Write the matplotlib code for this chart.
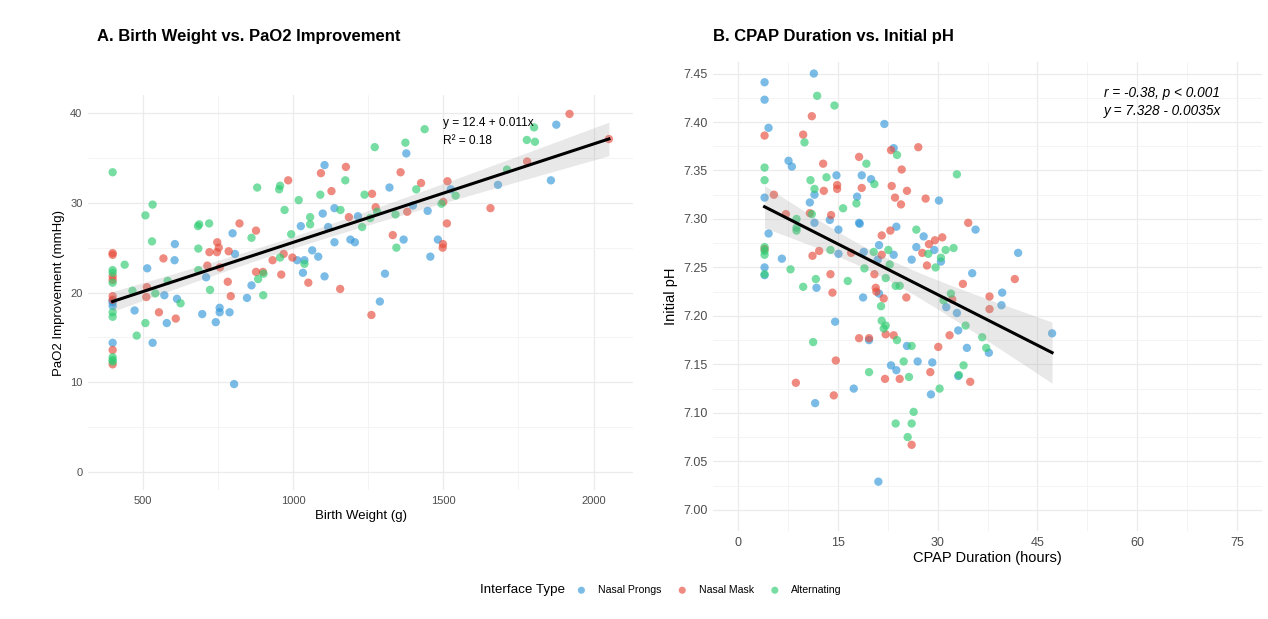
import numpy as np
import matplotlib.pyplot as plt

'------DATA------'

# Panel A: birth weight (g) and PaO2 improvement (mmHg), by interface type
bw_prongs = [1876, 1858, 1682, 1377, 1105, 1321, 1525, 1138, 1099, 1216, 1399, 1448, 1117,
             1026, 799, 1191, 1206, 1138, 1368, 1482, 1457, 1064, 1084, 807, 1014, 1038,
             1033, 1105, 1306, 711, 515, 607, 606, 572, 614, 473, 698, 743, 756, 756, 789,
             580, 533, 847, 862, 1289, 804, 400, 400, 400, 400]
pao2_prongs = [38.7, 32.5, 32.0, 35.5, 34.2, 31.7, 31.5, 29.4, 28.8, 28.5, 29.7, 29.1, 27.3,
               27.4, 26.6, 25.9, 25.6, 25.6, 25.9, 25.9, 24.0, 24.7, 24.0, 24.3, 23.6, 23.6,
               22.2, 21.8, 22.1, 21.7, 22.7, 25.4, 23.6, 19.7, 19.3, 18.0, 17.6, 16.7, 18.3,
               17.8, 17.8, 16.6, 14.4, 19.4, 20.8, 19.0, 9.8, 14.4, 18.9, 18.5, 19.1]

bw_mask = [1920, 2051, 1779, 1514, 1426, 1358, 1176, 1093, 1128, 984, 1263, 1275, 1380, 1186,
           1500, 1512, 1657, 1332, 1498, 1499, 1157, 1261, 1051, 998, 969, 932, 961, 900, 877,
           877, 822, 748, 753, 747, 722, 786, 715, 757, 783, 793, 569, 514, 512, 554, 610,
           400, 400, 400, 400, 400, 400, 400, 400]
pao2_mask = [39.9, 37.1, 34.6, 32.4, 32.2, 33.4, 34.0, 33.3, 31.3, 32.5, 31.0, 29.5, 29.0,
             28.4, 30.1, 27.7, 29.4, 26.4, 25.0, 25.4, 20.4, 17.5, 21.1, 23.9, 24.3, 23.6,
             22.0, 22.3, 22.3, 26.9, 27.7, 25.6, 25.0, 24.5, 24.5, 24.6, 23.0, 22.8, 21.2,
             19.6, 23.8, 20.6, 19.5, 17.8, 17.1, 24.4, 24.2, 21.8, 21.4, 19.6, 19.2, 13.6, 12.0]

bw_alt = [1438, 1374, 1272, 1802, 1778, 1805, 1712, 1174, 1410, 1238, 1541, 1494, 1091, 1019,
          957, 954, 881, 972, 1158, 1280, 1341, 1230, 1257, 994, 1057, 1057, 862, 1344, 957,
          1038, 902, 884, 901, 721, 688, 684, 685, 685, 724, 531, 533, 509, 440, 466, 583,
          542, 626, 509, 480, 400, 400, 400, 400, 400, 400, 400, 400, 400]
pao2_alt = [38.2, 36.7, 36.2, 38.4, 37.0, 36.8, 33.7, 32.5, 31.5, 30.9, 30.8, 29.9, 30.9,
            30.3, 31.9, 31.5, 31.7, 29.2, 29.2, 29.0, 28.7, 27.3, 28.3, 26.5, 28.4, 27.6,
            26.1, 25.0, 23.9, 23.2, 22.1, 21.5, 19.7, 27.7, 27.6, 27.4, 24.9, 22.5, 20.3,
            25.7, 29.8, 28.6, 23.1, 20.2, 21.3, 19.9, 18.8, 16.6, 15.2, 33.4, 22.5, 22.2,
            21.1, 17.8, 17.3, 12.8, 12.5, 12.3]

# Panel B: CPAP duration (hours) and initial pH, by interface type
cpap_prongs = [4.0, 4.0, 4.6, 11.4, 22.0, 23.4, 7.6, 8.1, 14.8, 18.6, 20.0, 4.0, 11.5, 10.8,
               17.9, 30.2, 11.5, 13.8, 15.1, 18.2, 18.3, 23.8, 35.7, 4.6, 27.9, 26.8, 29.5,
               21.2, 23.4, 15.1, 18.9, 26.1, 6.6, 42.1, 30.5, 4.0, 4.0, 35.2, 21.0, 11.8,
               18.8, 21.2, 39.7, 39.6, 31.3, 32.9, 14.6, 33.1, 19.7, 25.4, 34.4, 37.7, 47.2,
               23.0, 23.8, 27.0, 29.2, 33.1, 17.4, 29.0, 11.6, 21.1]
ph_prongs = [7.441, 7.423, 7.394, 7.450, 7.398, 7.373, 7.360, 7.354, 7.345, 7.345, 7.341,
             7.322, 7.325, 7.317, 7.323, 7.319, 7.296, 7.299, 7.289, 7.296, 7.295, 7.292,
             7.289, 7.285, 7.282, 7.271, 7.268, 7.273, 7.263, 7.264, 7.266, 7.258, 7.259,
             7.265, 7.256, 7.250, 7.242, 7.244, 7.258, 7.229, 7.219, 7.223, 7.224, 7.211,
             7.209, 7.203, 7.194, 7.185, 7.175, 7.169, 7.167, 7.162, 7.182, 7.149, 7.144,
             7.153, 7.152, 7.138, 7.125, 7.119, 7.110, 7.029]

cpap_mask = [4.0, 9.8, 11.1, 27.1, 23.0, 18.2, 12.8, 24.6, 14.9, 14.9, 18.6, 23.1, 25.4,
             12.9, 5.4, 23.6, 28.2, 24.5, 7.2, 10.8, 14.0, 34.6, 22.9, 21.6, 29.6, 30.7,
             28.7, 21.6, 27.7, 12.2, 11.2, 17.0, 4.0, 28.4, 13.9, 20.5, 14.2, 20.7, 20.8,
             21.9, 25.3, 32.2, 33.8, 41.6, 37.8, 37.8, 31.8, 23.4, 22.2, 18.2, 19.7, 30.1,
             14.7, 28.9, 22.1, 24.3, 34.9, 8.7, 14.4, 26.1]
ph_mask = [7.386, 7.387, 7.406, 7.374, 7.371, 7.364, 7.357, 7.351, 7.335, 7.331, 7.332,
           7.334, 7.329, 7.329, 7.325, 7.322, 7.321, 7.315, 7.305, 7.306, 7.304, 7.296,
           7.288, 7.283, 7.278, 7.281, 7.274, 7.263, 7.265, 7.267, 7.262, 7.265, 7.269,
           7.252, 7.243, 7.243, 7.224, 7.229, 7.225, 7.218, 7.219, 7.217, 7.233, 7.238,
           7.220, 7.207, 7.180, 7.180, 7.181, 7.177, 7.177, 7.168, 7.154, 7.142, 7.135,
           7.135, 7.132, 7.131, 7.118, 7.067]

cpap_alt = [11.9, 14.5, 10.0, 23.9, 19.3, 4.0, 4.0, 10.9, 13.3, 20.5, 32.9, 11.5, 17.8,
            15.8, 11.1, 8.8, 8.8, 8.8, 26.8, 4.0, 4.0, 4.0, 13.9, 20.4, 22.6, 31.2, 32.4,
            28.6, 30.5, 22.8, 19.0, 7.9, 29.7, 4.0, 11.7, 22.2, 16.5, 23.7, 24.3, 9.8,
            32.0, 30.9, 21.5, 21.6, 22.2, 21.9, 34.2, 36.7, 37.3, 23.9, 26.1, 11.3, 24.9,
            33.9, 19.7, 33.2, 25.7, 30.3, 26.4, 23.7, 26.1, 25.5]
ph_alt = [7.427, 7.417, 7.379, 7.366, 7.357, 7.353, 7.340, 7.340, 7.343, 7.336, 7.346,
          7.331, 7.316, 7.311, 7.305, 7.300, 7.288, 7.291, 7.289, 7.271, 7.267, 7.263,
          7.268, 7.266, 7.268, 7.268, 7.270, 7.264, 7.260, 7.253, 7.249, 7.248, 7.250,
          7.243, 7.238, 7.239, 7.236, 7.231, 7.231, 7.230, 7.223, 7.216, 7.210, 7.195,
          7.190, 7.187, 7.190, 7.178, 7.167, 7.175, 7.169, 7.173, 7.153, 7.149, 7.142,
          7.139, 7.137, 7.125, 7.101, 7.089, 7.089, 7.075]

group_names = ['Nasal Prongs', 'Nasal Mask', 'Alternating']
group_colors = ['#3498DB', '#E74C3C', '#2ECC71']


'------FUNCTIONS------'

# Linear fit with 95% confidence band for the mean (like geom_smooth(method='lm'))
def lm_band(x, y, n_pts=80):
    x = np.asarray(x, float)
    y = np.asarray(y, float)
    b, a = np.polyfit(x, y, 1)
    resid = y - (a + b*x)
    n = len(x)
    s = np.sqrt(np.sum(resid**2) / (n - 2))
    sxx = np.sum((x - x.mean())**2)
    xs = np.linspace(x.min(), x.max(), n_pts)
    ys = a + b*xs
    se = s * np.sqrt(1/n + (xs - x.mean())**2 / sxx)
    return xs, ys, 1.97*se


def style_axes(ax, tick_size):
    for sp in ax.spines.values():
        sp.set_visible(False)
    ax.grid(True, which='major', color='#EBEBEB', lw=0.9)
    ax.grid(True, which='minor', color='#F3F3F3', lw=0.6)
    ax.tick_params(which='both', length=0, labelsize=tick_size, labelcolor='#4D4D4D', pad=4)
    ax.set_axisbelow(True)


def panel(ax, xs_list, ys_list):
    handles = []
    for xg, yg, nm, col in zip(xs_list, ys_list, group_names, group_colors):
        h = ax.scatter(xg, yg, s=36, color=col, alpha=0.65, edgecolors='none', label=nm, zorder=2)
        handles.append(h)
    x_all = np.concatenate([np.asarray(v, float) for v in xs_list])
    y_all = np.concatenate([np.asarray(v, float) for v in ys_list])
    fx, fy, ci = lm_band(x_all, y_all)
    ax.fill_between(fx, fy - ci, fy + ci, color='#999999', alpha=0.22, lw=0, zorder=3)
    ax.plot(fx, fy, color='black', lw=2.2, zorder=4)
    return handles


'------MAIN------'

plt.rcParams['font.family'] = ['Liberation Sans', 'DejaVu Sans']

fig = plt.figure(figsize=(12.68, 6.19), dpi=100)

# Panel A
ax1 = fig.add_axes([0.0694, 0.2084, 0.430, 0.638])
handles = panel(ax1, [bw_prongs, bw_mask, bw_alt], [pao2_prongs, pao2_mask, pao2_alt])
ax1.set_xlim(318, 2132)
ax1.set_ylim(-2, 42)
ax1.set_xticks([500, 1000, 1500, 2000])
ax1.set_xticks([750, 1250, 1750], minor=True)
ax1.set_yticks([0, 10, 20, 30, 40])
ax1.set_yticks([5, 15, 25, 35], minor=True)
style_axes(ax1, 8)
ax1.set_xlabel('Birth Weight (g)', fontsize=9.5, labelpad=3)
ax1.set_ylabel('PaO2 Improvement (mmHg)', fontsize=9.5, labelpad=4)
ax1.text(1500, 38.9, 'y = 12.4 + 0.011x', fontsize=8.6, va='center', ha='left')
ax1.text(1500, 36.9, 'R² = 0.18', fontsize=8.6, va='center', ha='left')
fig.text(97/1268, 1 - 36/619, 'A. Birth Weight vs. PaO2 Improvement',
         fontsize=12, fontweight='bold', va='center', ha='left')

# Panel B
ax2 = fig.add_axes([0.5623, 0.142, 0.433, 0.758])
panel(ax2, [cpap_prongs, cpap_mask, cpap_alt], [ph_prongs, ph_mask, ph_alt])
ax2.set_xlim(-3.75, 78.75)
ax2.set_ylim(6.978, 7.462)
ax2.set_xticks([0, 15, 30, 45, 60, 75])
ax2.set_xticks([7.5, 22.5, 37.5, 52.5, 67.5], minor=True)
ax2.set_yticks(np.arange(7.0, 7.451, 0.05))
ax2.set_yticks(np.arange(7.025, 7.45, 0.05), minor=True)
ax2.yaxis.set_major_formatter(plt.FormatStrFormatter('%.2f'))
style_axes(ax2, 9)
ax2.set_xlabel('CPAP Duration (hours)', fontsize=10.5, labelpad=2)
ax2.set_ylabel('Initial pH', fontsize=10.5, labelpad=4)
ax2.text(55, 7.430, 'r = -0.38, p < 0.001', fontsize=9.8, style='italic', va='center', ha='left')
ax2.text(55, 7.411, 'y = 7.328 - 0.0035x', fontsize=9.8, style='italic', va='center', ha='left')
fig.text(713/1268, 1 - 36/619, 'B. CPAP Duration vs. Initial pH',
         fontsize=12, fontweight='bold', va='center', ha='left')

# Legend at the bottom, title on the left
fig.text(565/1268, 1 - 590/619, 'Interface Type', fontsize=9.6, va='center', ha='right')
fig.legend(handles, group_names, loc='center left', bbox_to_anchor=(574/1268, 1 - 590/619),
           ncol=3, frameon=False, fontsize=7.6, handletextpad=0.85, columnspacing=1.3,
           handlelength=1.4, markerscale=0.85, borderaxespad=0, borderpad=0)

fig.savefig('out.png', dpi=100)
